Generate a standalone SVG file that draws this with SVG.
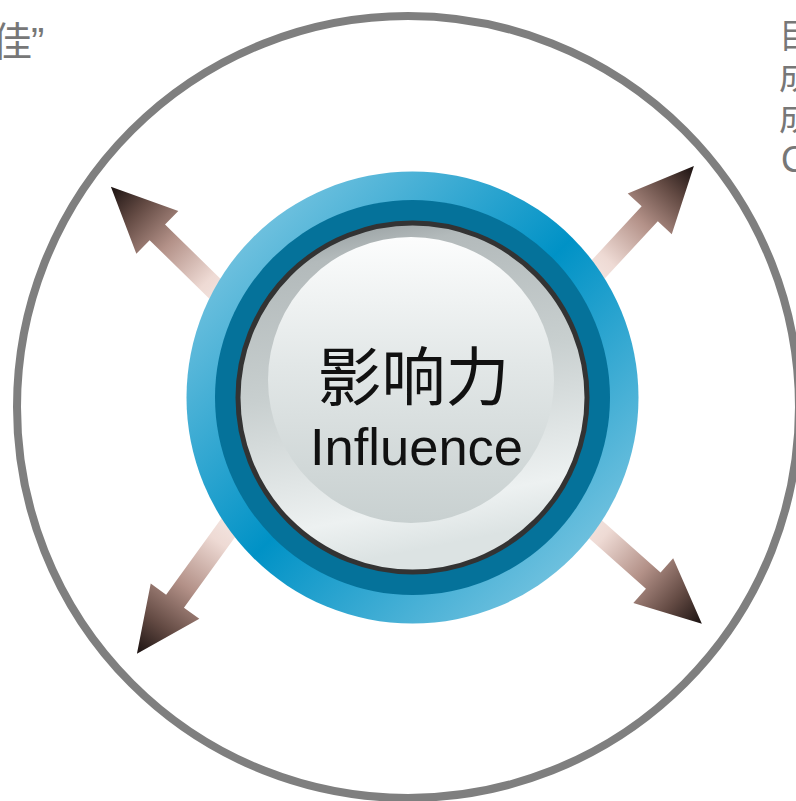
<svg xmlns="http://www.w3.org/2000/svg" width="796" height="801" viewBox="0 0 796 801">
  <defs>
    <linearGradient id="arrowGrad" x1="0" y1="0" x2="1" y2="0">
      <stop offset="0" stop-color="#f8eeeb"/>
      <stop offset="0.25" stop-color="#eedad4"/>
      <stop offset="0.55" stop-color="#b39188"/>
      <stop offset="0.8" stop-color="#634a43"/>
      <stop offset="1" stop-color="#1a1110"/>
    </linearGradient>
    <linearGradient id="blueGrad" x1="0" y1="0" x2="1" y2="1">
      <stop offset="0" stop-color="#9ad3e8"/>
      <stop offset="0.5" stop-color="#0092c6"/>
      <stop offset="1" stop-color="#9ad3e8"/>
    </linearGradient>
    <linearGradient id="diskGrad" x1="0" y1="0" x2="0.2" y2="1">
      <stop offset="0" stop-color="#858e90"/>
      <stop offset="0.15" stop-color="#b3babb"/>
      <stop offset="0.5" stop-color="#c8cfcf"/>
      <stop offset="0.88" stop-color="#edf1f1"/>
      <stop offset="1" stop-color="#dce3e3"/>
    </linearGradient>
    <linearGradient id="hiGrad" x1="0" y1="0" x2="0" y2="1">
      <stop offset="0" stop-color="#fcfdfd"/>
      <stop offset="0.45" stop-color="#e2e7e7"/>
      <stop offset="1" stop-color="#c8d0d0"/>
    </linearGradient>
    <style>
      .side { font-family: "Noto Sans CJK SC", "Noto Sans", sans-serif; fill: #777777; }
      .arrow { fill: url(#arrowGrad); }
    </style>
  </defs>

  <g id="side-text">
    <text class="side" x="-8" y="56" font-size="40">佳</text>
    <text x="31" y="56" font-size="40" font-family="Liberation Sans, Arial, sans-serif" fill="#777777">”</text>
    <text class="side" x="779" y="48" font-size="34">目</text>
    <text class="side" x="779" y="89" font-size="34">成</text>
    <text class="side" x="779" y="130" font-size="34">成</text>
    <text x="781" y="172" font-size="36" font-family="Liberation Sans, Arial, sans-serif" fill="#777777">C</text>
  </g>

  <g id="outer-ring">
    <circle cx="408" cy="407" r="391" fill="none" stroke="#7f7f7f" stroke-width="8"/>
  </g>

  <g id="connectors">
    <path class="arrow" transform="translate(239.5,312.8) rotate(-135.6)" d="M0,-11 L115,-11 L115,-30 L180,0 L115,30 L115,11 L0,11 Z"/>
    <path class="arrow" transform="translate(578.4,290.8) rotate(-47.2)" d="M0,-11 L105,-11 L105,-30 L170,0 L105,30 L105,11 L0,11 Z"/>
    <path class="arrow" transform="translate(245.4,504) rotate(125.9)" d="M0,-11 L120,-11 L120,-30 L185,0 L120,30 L120,11 L0,11 Z"/>
    <path class="arrow" transform="translate(571,507.6) rotate(41.6)" d="M0,-11 L110,-11 L110,-30 L175,0 L110,30 L110,11 L0,11 Z"/>
  </g>

  <g id="center-node">
    <circle cx="412.5" cy="397.5" r="226" fill="url(#blueGrad)"/>
    <circle cx="412.5" cy="397.5" r="197.5" fill="#05729a"/>
    <circle cx="412.5" cy="397.5" r="174.5" fill="url(#diskGrad)" stroke="#333333" stroke-width="5"/>
    <circle cx="411" cy="380" r="143" fill="url(#hiGrad)"/>
    <text x="413.5" y="400" font-size="64" text-anchor="middle" font-family="Noto Sans CJK SC, sans-serif" fill="#111111">影响力</text>
    <text x="416.5" y="465" font-size="52.5" text-anchor="middle" font-family="Liberation Sans, Arial, sans-serif" fill="#111111">Influence</text>
  </g>
</svg>
